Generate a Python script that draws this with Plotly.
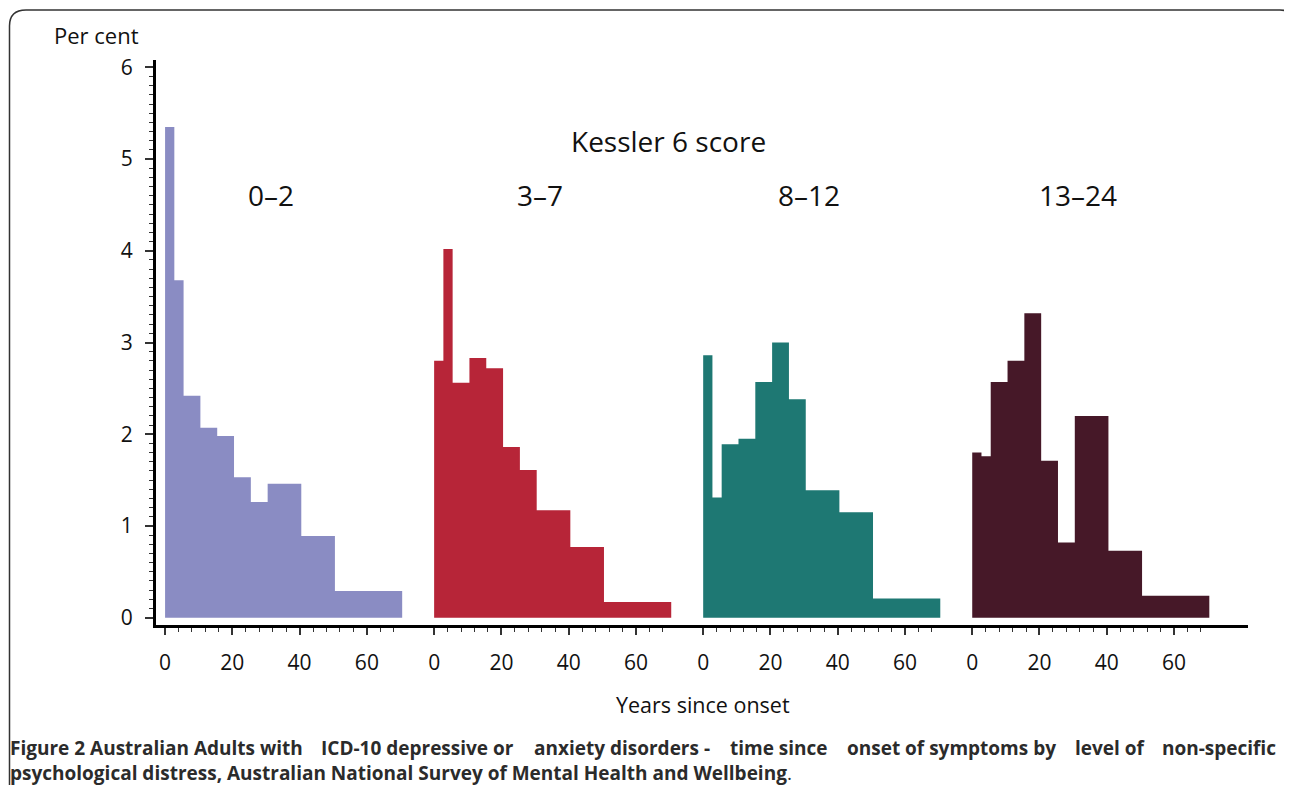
import plotly.graph_objects as go

# ---------------- data ----------------
groups = ["0–2", "3–7", "8–12", "13–24"]
bin_edges = [0, 2.75, 5.5, 10.5, 15.5, 20.5, 25.5, 30.5, 40.5, 50.5, 70.5]
pct_0_2 = [5.35, 3.68, 2.42, 2.07, 1.98, 1.53, 1.26, 1.46, 0.89, 0.29]
pct_3_7 = [2.80, 4.02, 2.56, 2.83, 2.72, 1.86, 1.61, 1.17, 0.77, 0.17]
pct_8_12 = [2.86, 1.31, 1.89, 1.95, 2.57, 3.00, 2.38, 1.39, 1.15, 0.21]
pct_13_24 = [1.80, 1.76, 2.57, 2.80, 3.32, 1.71, 0.82, 2.20, 0.73, 0.24]
series = [pct_0_2, pct_3_7, pct_8_12, pct_13_24]
colors = ["#8a8cc3", "#b72538", "#1e7873", "#461828"]
panel_offset = 80          # years between panel origins on the shared axis
major_ticks = [0, 20, 40, 60]
minor_ticks = list(range(0, 69, 4))
y_ticks = [0, 1, 2, 3, 4, 5, 6]

# page body has an 8px margin, so the figure is laid out 8px smaller
W, H = 1284, 777
L, T = 148, 52
PW, PH = 1092, 565
R, B = W - L - PW, H - T - PH


def px(x):   # reference-picture pixel -> paper
    return (x - 156) / PW


def py(y):
    return (625 - y) / PH


FONT = "Open Sans"
TXT = "#111111"

fig = go.Figure()
for k, vals in enumerate(series):
    off = k * panel_offset
    xs, ys = [off + bin_edges[0]], [0]
    for i, v in enumerate(vals):
        xs += [off + bin_edges[i], off + bin_edges[i + 1]]
        ys += [v, v]
    xs.append(off + bin_edges[-1])
    ys.append(0)
    fig.add_trace(go.Scatter(
        x=xs, y=ys, mode="lines", fill="toself", fillcolor=colors[k],
        line=dict(width=0, color=colors[k]), name=groups[k],
        showlegend=False, hoverinfo="skip",
    ))

xt_vals, xt_text, xminor = [], [], []
for k in range(len(series)):
    off = k * panel_offset
    xt_vals += [off + t for t in major_ticks]
    xt_text += [str(t) for t in major_ticks]
    xminor += [off + t for t in minor_ticks if t not in major_ticks]

fig.update_layout(
    width=W, height=H,
    margin=dict(l=L, r=R, t=T, b=B, autoexpand=False),
    paper_bgcolor="white", plot_bgcolor="white",
    font=dict(family=FONT, color=TXT),
    xaxis=dict(
        range=[-2.7, 322], showgrid=False, zeroline=False,
        showline=True, linecolor="black", linewidth=3,
        tickmode="array", tickvals=xt_vals, ticktext=xt_text,
        ticks="outside", ticklen=7, tickwidth=1.5, tickcolor="#333333",
        tickfont=dict(size=21, family=FONT, color=TXT),
        ticklabelstandoff=10,
        minor=dict(tickmode="array", tickvals=xminor, ticks="outside",
                   ticklen=4, tickwidth=1.2, tickcolor="#333333"),
    ),
    yaxis=dict(
        range=[-0.08, 6.08], showgrid=False, zeroline=False,
        showline=True, linecolor="black", linewidth=3,
        tickmode="array", tickvals=y_ticks,
        ticks="outside", ticklen=8, tickwidth=1.5, tickcolor="#333333",
        tickfont=dict(size=21, family=FONT, color=TXT),
        ticklabelstandoff=8,
        minor=dict(dtick=0.1, ticks="outside", ticklen=4, tickwidth=1.2,
                   tickcolor="#333333"),
    ),
)


def txt(text, x, y, size, xref="paper", xanchor="center", bold=False, color=TXT, pad=1):
    return dict(text=text, x=x, y=py(y), xref=xref, yref="paper",
                xanchor=xanchor, yanchor="middle", showarrow=False, borderpad=pad,
                font=dict(size=size, family=FONT, color=color,
                          weight="bold" if bold else "normal"))


ann = [
    txt("Per cent", px(96), 35, 22),
    txt("Kessler 6 score", px(668), 141, 28),
    txt("Years since onset", px(703), 704, 21.5),
]
for k, g in enumerate(groups):
    ann.append(txt(g, k * panel_offset + 31.5, 195, 28, xref="x"))

CAP = "#2b2b2b"
CS = 19
# first caption line, spread across the full width (justified look)
line1 = [("Figure 2 Australian Adults with", 9, "left"),
         ("ICD-10 depressive or", 320, "left"),
         ("anxiety disorders -", 533, "left"),
         ("time since", 729, "left"),
         ("onset of symptoms by", 846, "left"),
         ("level of", 1074, "left"),
         ("non-specific", 1277, "right")]
for t, x, a in line1:
    ann.append(txt(t, px(x), 747.5, CS, xanchor=a, bold=True, color=CAP, pad=0))
ann.append(txt("<b>psychological distress, Australian National Survey of Mental Health and Wellbeing</b>.",
               px(9), 772.5, CS, xanchor="left", color=CAP, pad=0))
fig.update_layout(annotations=ann)

# rounded frame (left edge, top-left corner, top edge, top-right corner)
frame = (f"M {px(9.5)},{py(800)} L {px(9.5)},{py(26)} "
         f"Q {px(9.5)},{py(10)} {px(26)},{py(10)} "
         f"L {px(1280)},{py(10)} Q {px(1290)},{py(10)} {px(1292)},{py(18)}")
fig.add_shape(type="path", path=frame, xref="paper", yref="paper",
              line=dict(color="#333333", width=1.5), layer="above")

fig.write_html("out.html")
